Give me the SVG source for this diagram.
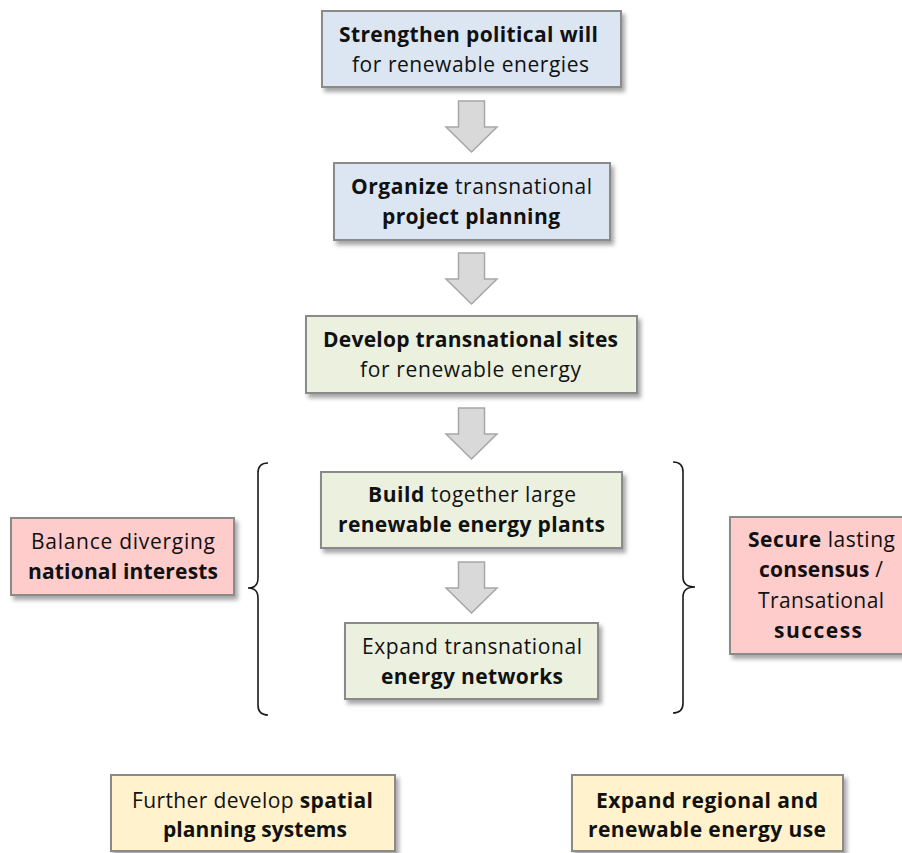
<svg xmlns="http://www.w3.org/2000/svg" width="902" height="853" viewBox="0 0 902 853">
<defs>
<filter id="sh" x="-10%" y="-10%" width="130%" height="140%">
<feDropShadow dx="3" dy="4" stdDeviation="2.2" flood-color="#000" flood-opacity="0.35"/>
</filter>
<style>
.box{stroke:#8a8a8a;stroke-width:2;filter:url(#sh)}
.blue{fill:#dce6f2}
.green{fill:#ebf1de}
.pink{fill:#ffcccc}
.yellow{fill:#fff2cc}
.arr{fill:#d9d9d9;stroke:#a6a6a6;stroke-width:1.5;stroke-linejoin:miter}
.brace{fill:none;stroke:#1a1a1a;stroke-width:1.6}
text{font-family:"Open Sans","Noto Sans",sans-serif;font-size:21px;fill:#111;text-anchor:middle}
.b{font-weight:bold}
.s{text-anchor:start}
</style>
</defs>
<rect width="902" height="853" fill="#fff"/>
<g id="connectors">
<polygon class="arr" points="458.5,101 484.5,101 484.5,127 497,127 471.5,152 446,127 458.5,127"/>
<polygon class="arr" points="458.5,253 484.5,253 484.5,279 497,279 471.5,304 446,279 458.5,279"/>
<polygon class="arr" points="458.5,408 484.5,408 484.5,434 497,434 471.5,459 446,434 458.5,434"/>
<polygon class="arr" points="458.5,562 484.5,562 484.5,588 497,588 471.5,613 446,588 458.5,588"/>
<path class="brace" d="M268,463 Q258,463 258,473 L258,578 Q258,588 248,588 Q258,588 258,598 L258,705 Q258,715 268,715"/>
<path class="brace" d="M673,462 Q683,462 683,472 L683,577 Q683,587 695,587 Q683,587 683,597 L683,703 Q683,713 673,713"/>
</g>
<g id="n1">
<rect class="box blue" x="322" y="11" width="299" height="76"/>
<text x="468.5" y="42" class="b" textLength="259">Strengthen political will</text>
<text x="470.5" y="72" textLength="237">for renewable energies</text>
</g>
<g id="n2">
<rect class="box blue" x="334" y="163" width="276" height="77"/>
<text x="471.5" y="194" textLength="241"><tspan class="b">Organize</tspan> transnational</text>
<text x="471" y="224" class="b" textLength="178">project planning</text>
</g>
<g id="n3">
<rect class="box green" x="306" y="316" width="331" height="77"/>
<text x="470.5" y="347" class="b" textLength="295">Develop transnational sites</text>
<text x="470.5" y="377" textLength="221">for renewable energy</text>
</g>
<g id="n4">
<rect class="box green" x="321" y="472" width="301" height="76"/>
<text x="472" y="502" textLength="208"><tspan class="b">Build</tspan> together large</text>
<text x="471.5" y="532" class="b" textLength="267">renewable energy plants</text>
</g>
<g id="n5">
<rect class="box green" x="345" y="623" width="253" height="76"/>
<text x="472" y="654" textLength="220">Expand transnational</text>
<text x="472" y="684" class="b" textLength="182">energy networks</text>
</g>
<g id="n6">
<rect class="box pink" x="11" y="518" width="223" height="77"/>
<text x="123" y="549" textLength="184">Balance diverging</text>
<text x="123" y="579" class="b" textLength="190">national interests</text>
</g>
<g id="n7">
<rect class="box pink" x="730" y="517" width="190" height="137"/>
<text x="821.5" y="547" textLength="147"><tspan class="b">Secure</tspan> lasting</text>
<text x="821" y="577" textLength="124"><tspan class="b">consensus</tspan> /</text>
<text x="821" y="608" textLength="126">Transational</text>
<text x="818" y="638" class="b" textLength="88">success</text>
</g>
<g id="n8">
<rect class="box yellow" x="111" y="775" width="284" height="76"/>
<text x="252.5" y="808" textLength="241">Further develop <tspan class="b">spatial</tspan></text>
<text x="255" y="837" class="b" textLength="184">planning systems</text>
</g>
<g id="n9">
<rect class="box yellow" x="572" y="775" width="271" height="76"/>
<text x="707" y="808" class="b" textLength="222">Expand regional and</text>
<text x="707" y="837" class="b" textLength="238">renewable energy use</text>
</g>
</svg>
